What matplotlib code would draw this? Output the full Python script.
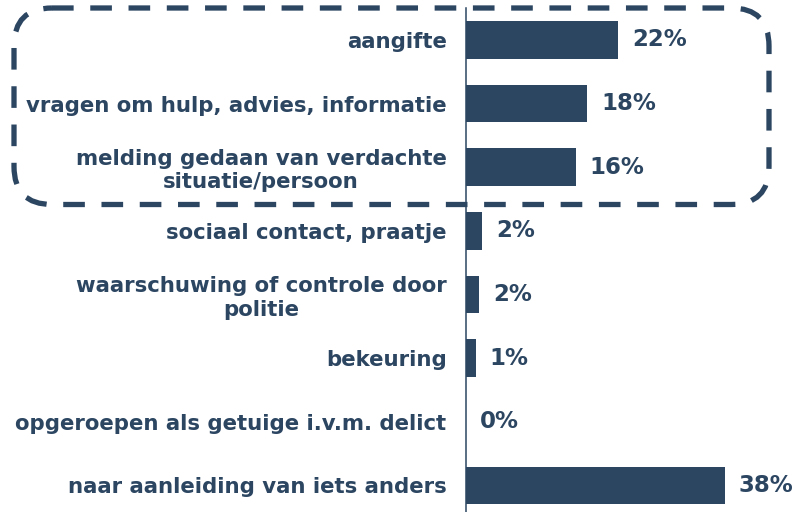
import matplotlib
matplotlib.use("Agg")
import matplotlib.pyplot as plt
from matplotlib.patches import FancyBboxPatch

# data (percent)
labels = [
    "aangifte",
    "vragen om hulp, advies, informatie",
    "melding gedaan van verdachte\nsituatie/persoon",
    "sociaal contact, praatje",
    "waarschuwing of controle door\npolitie",
    "bekeuring",
    "opgeroepen als getuige i.v.m. delict",
    "naar aanleiding van iets anders",
]
values = [22.2, 17.7, 16.0, 2.4, 1.9, 1.4, 0.0, 37.8]

navy = "#2c4662"
plt.rcParams["font.family"] = ["DejaVu Sans"]
plt.rcParams["font.weight"] = "bold"

fig = plt.figure(figsize=(7.99, 5.12), dpi=100)
ax = fig.add_axes([466 / 799, -0.01, 333 / 799, 0.994])

y = range(len(labels))
bars = ax.barh(y, values, height=0.59, color=navy)
ax.set_ylim(len(labels) - 0.5, -0.5)
ax.set_xlim(0, 48.6)

ax.bar_label(bars, fmt=lambda v: f"{v:.0f}%", padding=10,
             fontsize=16.5, fontweight="bold", color=navy)

ax.set_yticks(list(y))
ax.set_yticklabels(labels, fontsize=15.3, fontweight="bold", color=navy)
for t in ax.get_yticklabels():
    t.set_multialignment("center")
ax.tick_params(axis="y", length=0, pad=14)
ax.set_xticks([])

for s in ["top", "right", "bottom"]:
    ax.spines[s].set_visible(False)
ax.spines["left"].set_color(navy)
ax.spines["left"].set_linewidth(1.1)

# dashed rounded frame around the first three rows
over = fig.add_axes([0, 0, 1, 1], facecolor="none")
over.set_xlim(0, 799)
over.set_ylim(512, 0)
over.axis("off")
box = FancyBboxPatch((14, 8), 769 - 14, 204.5 - 8,
                     boxstyle="round,pad=0,rounding_size=38",
                     fill=False, edgecolor=navy, linewidth=3.8,
                     linestyle=(0, (4.1, 3.15)))
over.add_patch(box)

fig.savefig("out.png", dpi=100)
